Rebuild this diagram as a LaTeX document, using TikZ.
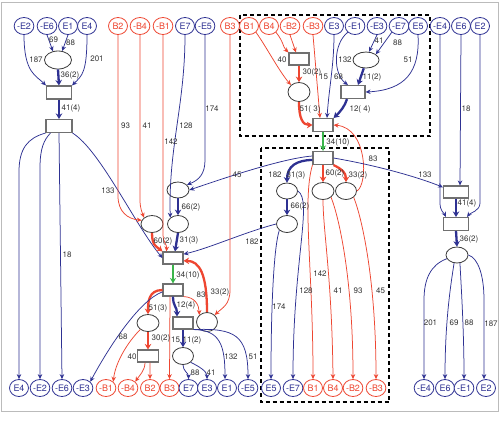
\documentclass[tikz,border=0pt]{standalone}
\usepackage{fontspec}
\setmainfont{TeX Gyre Heros}
\usetikzlibrary{arrows.meta,shapes.geometric}
\definecolor{cblue}{HTML}{2E3192}
\definecolor{cred}{HTML}{EE4631}
\definecolor{cgreen}{HTML}{39B54A}
\definecolor{cbox}{HTML}{707070}
\definecolor{cell}{HTML}{3A3A3A}
\definecolor{ctext}{HTML}{333333}
\definecolor{cframe}{HTML}{BBBBBB}
\begin{document}
\begin{tikzpicture}[x=1bp,y=-1bp,
  tc/.style={ellipse, line width=0.8bp, minimum width=19bp, minimum height=17bp, inner sep=0pt, fill=white, font=\fontsize{9}{9}\selectfont},
  tcb/.style={tc, draw=cblue, text=cblue},
  tcr/.style={tc, draw=cred, text=cred},
  ell/.style={ellipse, draw=cell, line width=0.8bp, fill=white, inner sep=0pt},
  box/.style={rectangle, draw=cbox, line width=1.1bp, fill=white, inner sep=0pt},
  lbl/.style={font=\fontsize{8}{8}\selectfont, text=ctext, inner sep=0pt},
  bl/.style={draw=cblue, line width=0.75bp, -{Stealth[length=5bp,width=4.5bp]}},
  blt/.style={draw=cblue, line width=2.3bp, -{Stealth[length=5.5bp,width=6.5bp]}},
  rd/.style={draw=cred, line width=0.75bp, -{Stealth[length=5bp,width=4.5bp]}},
  rdt/.style={draw=cred, line width=2.3bp, -{Stealth[length=5.5bp,width=6.5bp]}},
  grt/.style={draw=cgreen, line width=2bp, -{Stealth[length=5.5bp,width=6bp]}},
  dbox/.style={draw=black, line width=2bp, dash pattern=on 4bp off 3bp},
]
\useasboundingbox (0,0) rectangle (500,423);
\fill[white] (0,0) rectangle (500,423);
\draw[cframe, line width=0.8bp] (1.5,2.5) rectangle (498,411.5);
\draw[dbox] (240,14.5) rectangle (430,136);
\draw[dbox] (260.5,148) rectangle (389,402);

% top row
\node[tcb] (tmE2) at (24,26) {-E2};
\node[tcb] (tmE6) at (47,26) {-E6};
\node[tcb] (tE1) at (68,26) {E1};
\node[tcb] (tE4) at (87,26) {E4};
\node[tcr] (tB2) at (118,26) {B2};
\node[tcr] (tmB4) at (140,26) {-B4};
\node[tcr] (tmB1) at (163,26) {-B1};
\node[tcb] (tE7) at (185,26) {E7};
\node[tcb] (tmE5) at (205,26) {-E5};
\node[tcr] (tB3) at (230,26) {B3};
\node[tcr] (tB1) at (249,26) {B1};
\node[tcr] (tB4) at (269,26) {B4};
\node[tcr] (tmB2) at (290,26) {-B2};
\node[tcr] (tmB3) at (313,26) {-B3};
\node[tcb] (tE3) at (334,26) {E3};
\node[tcb] (tmE1) at (355,26) {-E1};
\node[tcb] (tmE3) at (377,26) {-E3};
\node[tcb] (tmE7) at (399,26) {-E7};
\node[tcb] (tE5) at (418,26) {E5};
\node[tcb] (tmE4) at (440,26) {-E4};
\node[tcb] (tE6) at (461,26) {E6};
\node[tcb] (tE2) at (480,26) {E2};

% bottom row
\node[tcb] (bE4) at (19,388) {E4};
\node[tcb] (bmE2) at (40,388) {-E2};
\node[tcb] (bmE6) at (62,388) {-E6};
\node[tcb] (bmE3) at (83,388) {-E3};
\node[tcr] (bmB1) at (106,388) {-B1};
\node[tcr] (bmB4) at (128,388) {-B4};
\node[tcr] (bB2) at (150,388) {B2};
\node[tcr] (bB3) at (169.5,388) {B3};
\node[tcb] (bE7) at (188.5,388) {E7};
\node[tcb] (bE3) at (207,388) {E3};
\node[tcb] (bE1) at (227,388) {E1};
\node[tcb] (bmE5) at (248,388) {-E5};
\node[tcb] (bE5) at (271,388) {E5};
\node[tcb] (bmE7) at (293,388) {-E7};
\node[tcr] (bB1) at (313,388) {B1};
\node[tcr] (bB4) at (333,388) {B4};
\node[tcr] (bmB2) at (353,388) {-B2};
\node[tcr] (bmB3) at (376,388) {-B3};
\node[tcb] (bmE4) at (424,388) {-E4};
\node[tcb] (bE6) at (445,388) {E6};
\node[tcb] (bmE1) at (464,388) {-E1};
\node[tcb] (bE2) at (486,388) {E2};

% inner nodes
\node[ell, minimum width=27bp, minimum height=18bp] (e1) at (58,60) {};
\node[box, minimum width=25bp, minimum height=13bp] (r1) at (59,92.5) {};
\node[box, minimum width=26bp, minimum height=13bp] (r2) at (59,126) {};
\node[ell, minimum width=22bp, minimum height=17bp] (L) at (152,224) {};
\node[ell, minimum width=22bp, minimum height=16bp] (P) at (178,190) {};
\node[ell, minimum width=21bp, minimum height=17bp] (Q) at (178,224) {};
\node[box, minimum width=20bp, minimum height=12bp] (rM) at (173,258) {};
\node[box, minimum width=20bp, minimum height=12bp] (rLM) at (173,290) {};
\node[ell, minimum width=22bp, minimum height=17bp] (LL) at (148,323) {};
\node[box, minimum width=21bp, minimum height=12bp] (rLL) at (148,356) {};
\node[box, minimum width=20bp, minimum height=12bp] (rLR) at (183,323) {};
\node[ell, minimum width=21bp, minimum height=19bp] (R2) at (207,322) {};
\node[ell, minimum width=21bp, minimum height=17bp] (eLR) at (183,356) {};
\node[box, minimum width=20bp, minimum height=12bp] (rT1) at (299,59) {};
\node[ell, minimum width=22bp, minimum height=19bp] (eT) at (299,92) {};
\node[box, minimum width=20bp, minimum height=13bp] (rTM) at (323,125) {};
\node[ell, minimum width=26bp, minimum height=16bp] (eT2) at (366,60) {};
\node[box, minimum width=24bp, minimum height=13bp] (rT2) at (353,92) {};
\node[box, minimum width=20bp, minimum height=13bp] (rM2) at (323,158) {};
\node[ell, minimum width=21bp, minimum height=16bp] (A) at (287,191) {};
\node[ell, minimum width=21bp, minimum height=17bp] (D) at (287,224) {};
\node[ell, minimum width=22bp, minimum height=17bp] (B) at (323,191) {};
\node[ell, minimum width=21bp, minimum height=17bp] (C) at (346,191) {};
\node[box, minimum width=25bp, minimum height=12bp] (rR1) at (456,192) {};
\node[box, minimum width=25bp, minimum height=13bp] (rR2) at (456,224) {};
\node[ell, minimum width=22bp, minimum height=16bp] (eR) at (457,255) {};

% top-left cluster
\draw[bl] (tmE2.south) .. controls +(0,38) and +(-10,-10) .. (r1.north west);
\draw[bl] (tE4.south) .. controls +(0,38) and +(10,-10) .. (r1.north east);
\draw[bl] (tmE6.south) -- (e1.120);
\draw[bl] (tE1.south) -- (e1.65);
\draw[blt] (e1.south) -- (r1.north);
\draw[blt] (r1.south) -- (r2.north);
\draw[bl] (r2.south west) .. controls (28,138) and (19,148) .. (19,172) -- (bE4.north);
\draw[bl] ([xshift=5bp]r2.south west) .. controls (44,140) and (40,148) .. (40,168) -- (bmE2.north);
\draw[bl] (r2.south) -- (bmE6.north);
\draw[bl] (r2.south east) .. controls (100,150) and (135,225) .. (rM.west);

% upper middle
\draw[rd] (tB2.south) -- (118,196) .. controls (118,212) and (128,219) .. (L.160);
\draw[rd] (tmB4.south) -- (140,200) .. controls (140,208) and (142,212) .. (L.north west);
\draw[rd] (tmB1.south) -- (163,234) .. controls (163,243) and (167,244) .. ([xshift=4bp]rM.north west);
\draw[bl] (tE7.south) .. controls +(0,70) and +(-2,-70) .. (Q.north west);
\draw[bl] (tmE5.south) -- (205,160) .. controls (205,174) and (199,180) .. (P.30);
\draw[blt] (P.south) -- (Q.north);
\draw[blt] (Q.south) -- ([xshift=2bp]rM.north);
\draw[rdt] (L.south) .. controls +(0,13) and +(-6,-5) .. (rM.north west);
\draw[grt] (rM.south) -- (rLM.north);

% lower-left cluster
\draw[rdt] (rLM.west) .. controls +(-14,0) and +(0,-12) .. (LL.north);
\draw[bl] (rLM.190) .. controls (140,300) and (110,345) .. (bmE3.north east);
\draw[rd] ([xshift=-3bp]rLM.south) -- (bB3.north);
\draw[blt] (rLM.south) .. controls +(0,10) and +(0,-10) .. ([xshift=-6bp]rLR.north);
\draw[rd] (rLM.south east) .. controls (195,297) and (199,305) .. (R2.north west);
\draw[rdt] (R2.north) .. controls +(0,-38) and +(16,0) .. (rM.-15);
\draw[bl] (D.west) .. controls (245,232) and (210,248) .. (rM.20);
\draw[rd] (tB3.south) -- (230,290) .. controls (230,305) and (222,308) .. (R2.north east);
\draw[rdt] (LL.south) -- (rLL.north);
\draw[rd] (LL.220) .. controls (125,345) and (115,365) .. (bmB1.north east);
\draw[rd] ([xshift=-3bp]rLL.south) .. controls +(0,8) and +(4,-6) .. (bmB4.north east);
\draw[rd] ([xshift=2bp]rLL.south) -- (bB2.north);
\draw[blt] (rLR.south) -- (eLR.north);
\draw[bl] (eLR.south) .. controls +(0,6) and +(0,-6) .. (bE7.north);
\draw[bl] (eLR.south east) .. controls +(8,4) and +(0,-8) .. (bE3.north);
\draw[bl] (rLR.south east) .. controls (220,330) and (225,345) .. ([xshift=-2bp]bE1.north);
\draw[bl] (rLR.south east) .. controls (235,328) and (248,335) .. (bmE5.north);

% top dashed box
\draw[rd] (tB1.south east) .. controls +(10,14) and +(-12,-14) .. (eT.north west);
\draw[rd] (tB4.south east) .. controls +(8,10) and +(-6,-6) .. (rT1.north west);
\draw[rd] (tmB2.south) -- ([xshift=-3bp]rT1.north);
\draw[rdt] (rT1.south) -- (eT.north);
\draw[rdt] (eT.south) .. controls +(0,16) and +(-10,0) .. (rTM.west);
\draw[rd] (tmB3.south) -- ([xshift=-3bp]rTM.north);
\draw[bl] (tE3.south) .. controls +(0,30) and +(2,-30) .. ([xshift=4bp]rTM.north);
\draw[bl] (tmE1.south west) .. controls (333,44) and (333,74) .. ([xshift=-5bp]rT2.north);
\draw[bl] (tmE3.south) -- (eT2.70);
\draw[bl] (tmE7.south west) -- (eT2.30);
\draw[bl] (tE5.south) .. controls (420,72) and (405,90) .. (rT2.east);
\draw[blt] (eT2.255) -- ([xshift=5bp]rT2.north);
\draw[blt] ([xshift=-6bp]rT2.south) .. controls (345,106) and (340,112) .. (rTM.north east);
\draw[grt] (rTM.south) -- (rM2.north);
\draw[rd] (C.east) .. controls (368,185) and (368,128) .. (rTM.east);

% lower dashed box
\draw[blt] ([yshift=-2bp]rM2.west) .. controls (297,160) and (287,166) .. (A.north);
\draw[bl] ([yshift=2bp]rM2.west) .. controls (285,158) and (230,176) .. (P.east);
\draw[rdt] (rM2.south) -- (B.north);
\draw[rdt] (rM2.south east) .. controls +(8,4) and +(0,-10) .. (C.north);
\draw[bl] (rM2.east) .. controls (380,166) and (420,178) .. (rR1.160);
\draw[blt] (A.south) -- (D.north);
\draw[bl] (A.east) .. controls +(15,10) and +(0,-120) .. (bmE7.north);
\draw[bl] (D.south west) .. controls +(-5,15) and +(0,-80) .. (bE5.north);
\draw[rd] (rM2.south west) .. controls (302,200) and (313,269.5) .. (bB1.north);
\draw[rd] (B.south) .. controls +(0,30) and +(-1,-100) .. (bB4.north);
\draw[rd] (B.south east) .. controls +(8,20) and +(0,-100) .. (bmB2.north);
\draw[rd] (C.south east) .. controls +(8,20) and +(0,-100) .. (bmB3.north);

% right cluster
\draw[bl] (tmE4.south) -- (440,203) .. controls (440,211) and (444,213) .. ([xshift=3bp]rR2.north west);
\draw[bl] (tE6.south) -- ([xshift=4bp]rR1.north);
\draw[bl] (tE2.south) -- (480,203) .. controls (480,211) and (470,213) .. ([xshift=-2bp]rR2.north east);
\draw[blt] (rR1.south) -- (rR2.north);
\draw[blt] (rR2.south) -- (eR.north);
\draw[bl] (eR.200) .. controls (430,265) and (424,280) .. (424,300) -- (bmE4.north);
\draw[bl] (eR.250) .. controls +(-3,20) and +(0,-60) .. (bE6.north);
\draw[bl] (eR.290) .. controls +(1,20) and +(0,-50) .. (bmE1.north);
\draw[bl] (eR.east) .. controls (478,258) and (484,275) .. (484,300) -- ([xshift=-2bp]bE2.north);

% labels
\node[lbl] (l1) at (53.5,40) {69};
\node[lbl] (l2) at (70.5,43) {88};
\node[lbl] (l3) at (36,60) {187};
\node[lbl] (l4) at (97,59) {201};
\node[lbl] (l5) at (70,75) {36(2)};
\node[lbl] (l6) at (71,108) {41(4)};
\node[lbl] (l7) at (125.5,126) {93};
\node[lbl] (l8) at (147,126) {41};
\node[lbl] (l9) at (186,126) {128};
\node[lbl] (l10) at (212,109) {174};
\node[lbl] (l11) at (171,142) {142};
\node[lbl] (l12) at (108,191) {133};
\node[lbl] (l13) at (67,255) {18};
\node[lbl] (l14) at (237,175) {45};
\node[lbl] (l15) at (191,207) {66(2)};
\node[lbl] (l16) at (163,241) {60(2)};
\node[lbl] (l17) at (189,240) {31(3)};
\node[lbl] (l18) at (188,275) {34(10)};
\node[lbl] (l19) at (252,242) {182};
\node[lbl] (l20) at (158,308) {51(3)};
\node[lbl] (l21) at (186,305) {12(4)};
\node[lbl] (l22) at (201,295) {83};
\node[lbl] (l23) at (220,292) {33(2)};
\node[lbl] (l24) at (123,337) {68};
\node[lbl] (l25) at (161,338) {30(2)};
\node[lbl] (l26) at (132,357) {40};
\node[lbl] (l27) at (175.5,340) {15};
\node[lbl] (l28) at (192,340) {11(2)};
\node[lbl] (l29) at (195,373) {88};
\node[lbl] (l30) at (211,373) {41};
\node[lbl] (l31) at (231,357) {132};
\node[lbl] (l32) at (253,357) {51};
\node[lbl] (l33) at (282,60) {40};
\node[lbl] (l34) at (312,72) {30(2)};
\node[lbl] (l35) at (310,109) {51( 3)};
\node[lbl] (l36) at (323.5,77) {15};
\node[lbl] (l37) at (338.5,77) {68};
\node[lbl] (l38) at (345,60) {132};
\node[lbl] (l39) at (379,41) {41};
\node[lbl] (l40) at (397.5,43) {88};
\node[lbl] (l41) at (408,60) {51};
\node[lbl] (l42) at (372,77) {11(2)};
\node[lbl] (l43) at (360,109) {12( 4)};
\node[lbl] (l44) at (338,142) {34(10)};
\node[lbl] (l45) at (275,175) {182};
\node[lbl] (l46) at (296,175) {31(3)};
\node[lbl] (l47) at (335,173) {60(2)};
\node[lbl] (l48) at (358,175) {33(2)};
\node[lbl] (l49) at (373,159) {83};
\node[lbl] (l50) at (300,206) {66(2)};
\node[lbl] (l51) at (320,274) {142};
\node[lbl] (l52) at (306,291) {128};
\node[lbl] (l53) at (279,307) {174};
\node[lbl] (l54) at (338,291) {41};
\node[lbl] (l55) at (358,291) {93};
\node[lbl] (l56) at (380.5,291) {45};
\node[lbl] (l57) at (425,175) {133};
\node[lbl] (l58) at (466,109) {18};
\node[lbl] (l59) at (467,203) {41(4)};
\node[lbl] (l60) at (469,239) {36(2)};
\node[lbl] (l61) at (430.5,323) {201};
\node[lbl] (l62) at (454,323) {69};
\node[lbl] (l63) at (469,323) {88};
\node[lbl] (l64) at (491,324) {187};
\end{tikzpicture}
\end{document}
